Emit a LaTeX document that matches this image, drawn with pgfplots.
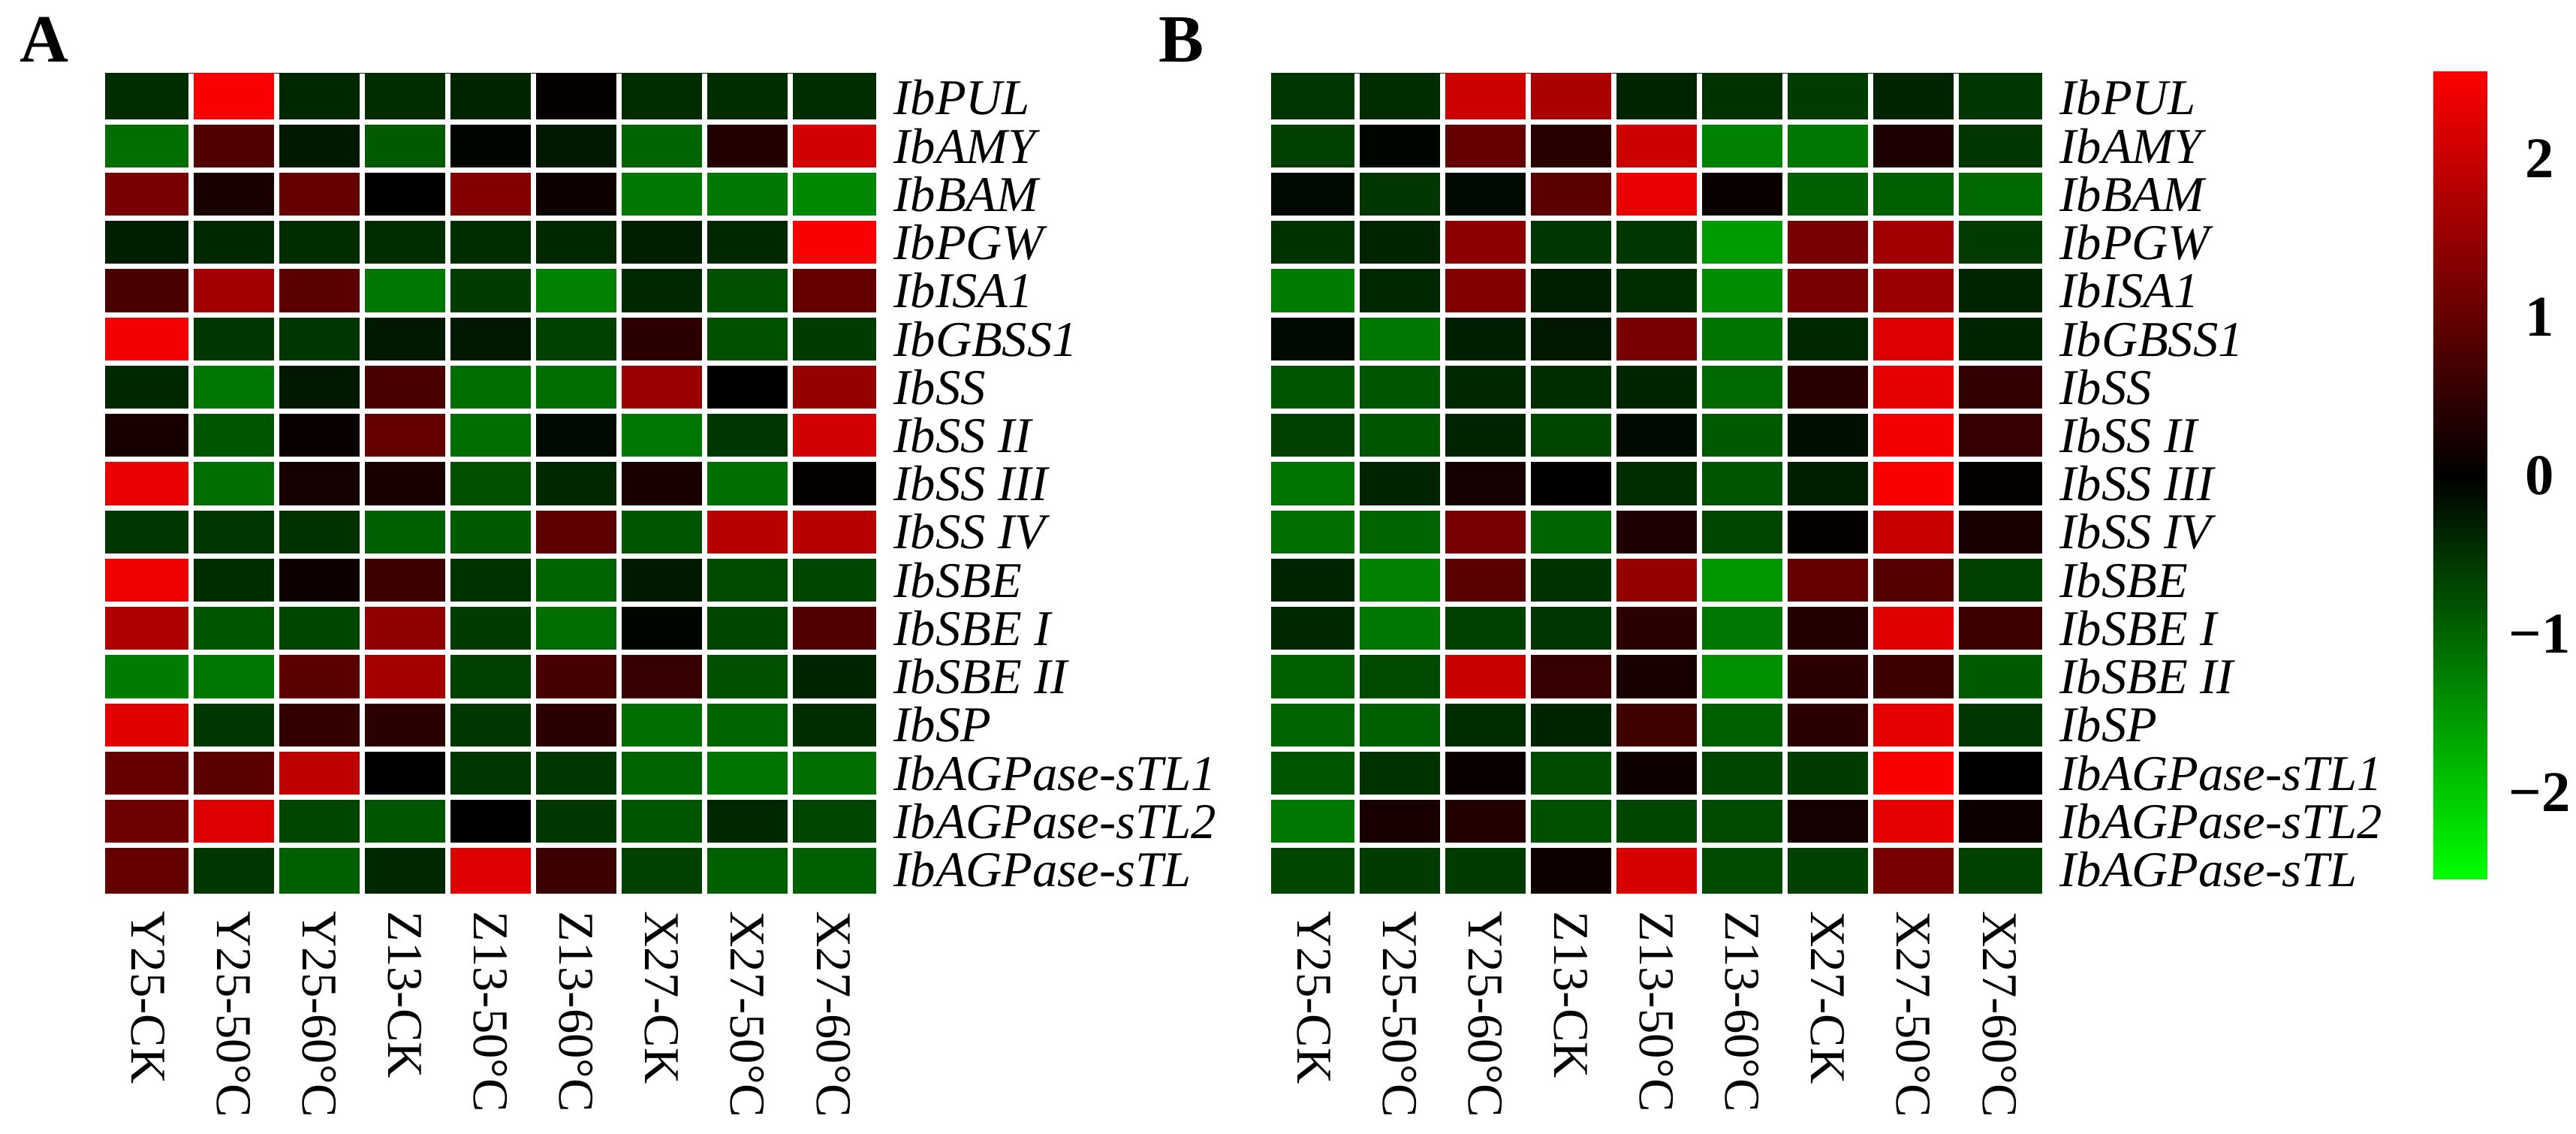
\documentclass[border=0pt]{standalone}
\usepackage{fontspec}
\setmainfont{Liberation Serif}
\usepackage{pgfplots}
\pgfplotsset{compat=1.18}

% 1 px of the reference = 0.15pt
\pgfplotsset{
  colormap={greenred}{rgb=(0,1,0) rgb=(0,0,0) rgb=(1,0,0)},
  heat/.style={
    scale only axis, width=154.05pt, height=163.8pt,
    xmin=-0.5, xmax=8.5, ymin=-0.5, ymax=16.5, y dir=reverse,
    enlargelimits=false,
    colormap name=greenred, point meta min=-2.55, point meta max=2.55,
    xtick={0,...,8},
    xticklabels={Y25-CK,Y25-50°C,Y25-60°C,Z13-CK,Z13-50°C,Z13-60°C,X27-CK,X27-50°C,X27-60°C},
    ytick={0,...,16},
    yticklabels={IbPUL,IbAMY,IbBAM,IbPGW,IbISA1,IbGBSS1,IbSS,IbSS II,IbSS III,IbSS IV,IbSBE,IbSBE I,IbSBE II,IbSP,IbAGPase-sTL1,IbAGPase-sTL2,IbAGPase-sTL},
    xticklabel pos=left, yticklabel pos=right,
    major tick length=0pt, minor tick length=0pt,
    axis line style={draw=none},
    minor xtick={0.5,1.5,...,7.5}, minor ytick={0.5,1.5,...,15.5},
    xminorgrids, yminorgrids,
    minor grid style={white, line width=1.05pt},
    axis on top,
    xticklabel style={font=\fontsize{10}{12}\selectfont, rotate=-90, anchor=west},
    yticklabel style={font=\fontsize{10}{12}\selectfont\itshape, anchor=west},
  },
}

\begin{document}
\begin{tikzpicture}
\path[use as bounding box] (0,0) rectangle (514.65pt,-226.5pt);

\node[anchor=base west, inner sep=0, font=\fontsize{13.5}{16}\selectfont\bfseries] at (3.75pt,-12.45pt) {A};
\node[anchor=base west, inner sep=0, font=\fontsize{13.5}{16}\selectfont\bfseries] at (231.3pt,-12.45pt) {B};

% panel A
\begin{axis}[heat, at={(21pt,-14.7pt)}, anchor=north west]
\addplot[matrix plot*, mesh/cols=9, point meta=explicit] coordinates {
(0,0)[-0.45] (1,0)[2.5] (2,0)[-0.4] (3,0)[-0.45] (4,0)[-0.35] (5,0)[0.05] (6,0)[-0.45] (7,0)[-0.45] (8,0)[-0.45]
(0,1)[-1.1] (1,1)[0.8] (2,1)[-0.25] (3,1)[-0.9] (4,1)[-0.05] (5,1)[-0.25] (6,1)[-1.0] (7,1)[0.35] (8,1)[2.1]
(0,2)[1.2] (1,2)[0.25] (2,2)[1.0] (3,2)[0.0] (4,2)[1.3] (5,2)[0.15] (6,2)[-1.2] (7,2)[-1.2] (8,2)[-1.35]
(0,3)[-0.3] (1,3)[-0.4] (2,3)[-0.45] (3,3)[-0.45] (4,3)[-0.45] (5,3)[-0.4] (6,3)[-0.3] (7,3)[-0.4] (8,3)[2.5]
(0,4)[0.75] (1,4)[1.6] (2,4)[0.9] (3,4)[-1.2] (4,4)[-0.6] (5,4)[-1.3] (6,4)[-0.4] (7,4)[-0.8] (8,4)[1.0]
(0,5)[2.45] (1,5)[-0.55] (2,5)[-0.55] (3,5)[-0.25] (4,5)[-0.25] (5,5)[-0.65] (6,5)[0.45] (7,5)[-0.8] (8,5)[-0.6]
(0,6)[-0.4] (1,6)[-1.2] (2,6)[-0.25] (3,6)[0.75] (4,6)[-1.1] (5,6)[-1.1] (6,6)[1.55] (7,6)[0.0] (8,6)[1.5]
(0,7)[0.25] (1,7)[-0.85] (2,7)[0.1] (3,7)[1.0] (4,7)[-1.1] (5,7)[-0.1] (6,7)[-1.2] (7,7)[-0.55] (8,7)[2.1]
(0,8)[2.35] (1,8)[-1.1] (2,8)[0.2] (3,8)[0.25] (4,8)[-0.8] (5,8)[-0.4] (6,8)[0.25] (7,8)[-1.1] (8,8)[0.05]
(0,9)[-0.55] (1,9)[-0.55] (2,9)[-0.5] (3,9)[-0.95] (4,9)[-0.9] (5,9)[0.95] (6,9)[-0.85] (7,9)[1.85] (8,9)[1.85]
(0,10)[2.4] (1,10)[-0.45] (2,10)[0.15] (3,10)[0.6] (4,10)[-0.5] (5,10)[-1.0] (6,10)[-0.25] (7,10)[-0.75] (8,10)[-0.7]
(0,11)[1.75] (1,11)[-0.85] (2,11)[-0.7] (3,11)[1.45] (4,11)[-0.6] (5,11)[-1.1] (6,11)[-0.05] (7,11)[-0.7] (8,11)[0.8]
(0,12)[-1.25] (1,12)[-1.2] (2,12)[0.9] (3,12)[1.65] (4,12)[-0.65] (5,12)[0.7] (6,12)[0.55] (7,12)[-0.8] (8,12)[-0.35]
(0,13)[2.25] (1,13)[-0.55] (2,13)[0.5] (3,13)[0.45] (4,13)[-0.55] (5,13)[0.45] (6,13)[-1.1] (7,13)[-1.0] (8,13)[-0.45]
(0,14)[1.0] (1,14)[0.9] (2,14)[1.9] (3,14)[0.0] (4,14)[-0.55] (5,14)[-0.55] (6,14)[-1.0] (7,14)[-1.15] (8,14)[-1.1]
(0,15)[1.1] (1,15)[2.2] (2,15)[-0.7] (3,15)[-0.85] (4,15)[0.0] (5,15)[-0.55] (6,15)[-0.85] (7,15)[-0.4] (8,15)[-0.7]
(0,16)[1.0] (1,16)[-0.55] (2,16)[-0.95] (3,16)[-0.4] (4,16)[2.2] (5,16)[0.6] (6,16)[-0.65] (7,16)[-0.95] (8,16)[-0.95]
};
\end{axis}

% panel B with the colour bar
\begin{axis}[heat, at={(253.95pt,-14.7pt)}, anchor=north west,
  colorbar,
  colorbar style={
    at={(1.5073,1.00275)}, anchor=north west,
    scale only axis, width=10.8pt, height=161.4pt,
    axis line style={draw=none}, major tick length=0pt,
    ytick={-2,-1,0,1,2}, yticklabels={−2,−1,0,1,2},
    yticklabel style={font=\fontsize{11.5}{13}\selectfont\bfseries, anchor=center, xshift=10.5pt},
  }]
\addplot[matrix plot*, mesh/cols=9, point meta=explicit] coordinates {
(0,0)[-0.55] (1,0)[-0.45] (2,0)[2.05] (3,0)[1.7] (4,0)[-0.35] (5,0)[-0.5] (6,0)[-0.6] (7,0)[-0.35] (8,0)[-0.55]
(0,1)[-0.65] (1,1)[-0.05] (2,1)[1.0] (3,1)[0.4] (4,1)[2.05] (5,1)[-1.3] (6,1)[-1.2] (7,1)[0.3] (8,1)[-0.55]
(0,2)[-0.1] (1,2)[-0.55] (2,2)[-0.1] (3,2)[0.9] (4,2)[2.35] (5,2)[0.1] (6,2)[-0.95] (7,2)[-0.95] (8,2)[-1.05]
(0,3)[-0.5] (1,3)[-0.35] (2,3)[1.4] (3,3)[-0.55] (4,3)[-0.55] (5,3)[-1.55] (6,3)[1.2] (7,3)[1.6] (8,3)[-0.6]
(0,4)[-1.25] (1,4)[-0.4] (2,4)[1.3] (3,4)[-0.3] (4,4)[-0.45] (5,4)[-1.4] (6,4)[1.2] (7,4)[1.55] (8,4)[-0.35]
(0,5)[-0.1] (1,5)[-1.2] (2,5)[-0.3] (3,5)[-0.25] (4,5)[1.2] (5,5)[-1.15] (6,5)[-0.4] (7,5)[2.2] (8,5)[-0.35]
(0,6)[-0.85] (1,6)[-0.85] (2,6)[-0.4] (3,6)[-0.45] (4,6)[-0.35] (5,6)[-1.05] (6,6)[0.4] (7,6)[2.3] (8,6)[0.5]
(0,7)[-0.65] (1,7)[-0.85] (2,7)[-0.35] (3,7)[-0.7] (4,7)[-0.1] (5,7)[-0.9] (6,7)[-0.15] (7,7)[2.45] (8,7)[0.55]
(0,8)[-1.15] (1,8)[-0.35] (2,8)[0.2] (3,8)[0.0] (4,8)[-0.45] (5,8)[-0.85] (6,8)[-0.3] (7,8)[2.5] (8,8)[0.05]
(0,9)[-1.1] (1,9)[-1.0] (2,9)[1.2] (3,9)[-1.0] (4,9)[0.3] (5,9)[-0.7] (6,9)[0.05] (7,9)[2.0] (8,9)[0.25]
(0,10)[-0.35] (1,10)[-1.3] (2,10)[0.9] (3,10)[-0.5] (4,10)[1.5] (5,10)[-1.5] (6,10)[1.0] (7,10)[0.85] (8,10)[-0.65]
(0,11)[-0.4] (1,11)[-1.2] (2,11)[-0.65] (3,11)[-0.55] (4,11)[0.45] (5,11)[-1.2] (6,11)[0.35] (7,11)[2.25] (8,11)[0.6]
(0,12)[-0.95] (1,12)[-0.75] (2,12)[2.0] (3,12)[0.55] (4,12)[0.25] (5,12)[-1.45] (6,12)[0.45] (7,12)[0.6] (8,12)[-0.9]
(0,13)[-1.0] (1,13)[-0.95] (2,13)[-0.45] (3,13)[-0.35] (4,13)[0.65] (5,13)[-0.95] (6,13)[0.45] (7,13)[2.3] (8,13)[-0.55]
(0,14)[-0.85] (1,14)[-0.5] (2,14)[0.1] (3,14)[-0.75] (4,14)[0.15] (5,14)[-0.7] (6,14)[-0.6] (7,14)[2.5] (8,14)[0.0]
(0,15)[-1.2] (1,15)[0.25] (2,15)[0.35] (3,15)[-0.8] (4,15)[-0.7] (5,15)[-0.75] (6,15)[0.2] (7,15)[2.3] (8,15)[0.15]
(0,16)[-0.7] (1,16)[-0.6] (2,16)[-0.6] (3,16)[0.15] (4,16)[2.15] (5,16)[-0.75] (6,16)[-0.65] (7,16)[1.2] (8,16)[-0.65]
};
\end{axis}
\end{tikzpicture}
\end{document}
